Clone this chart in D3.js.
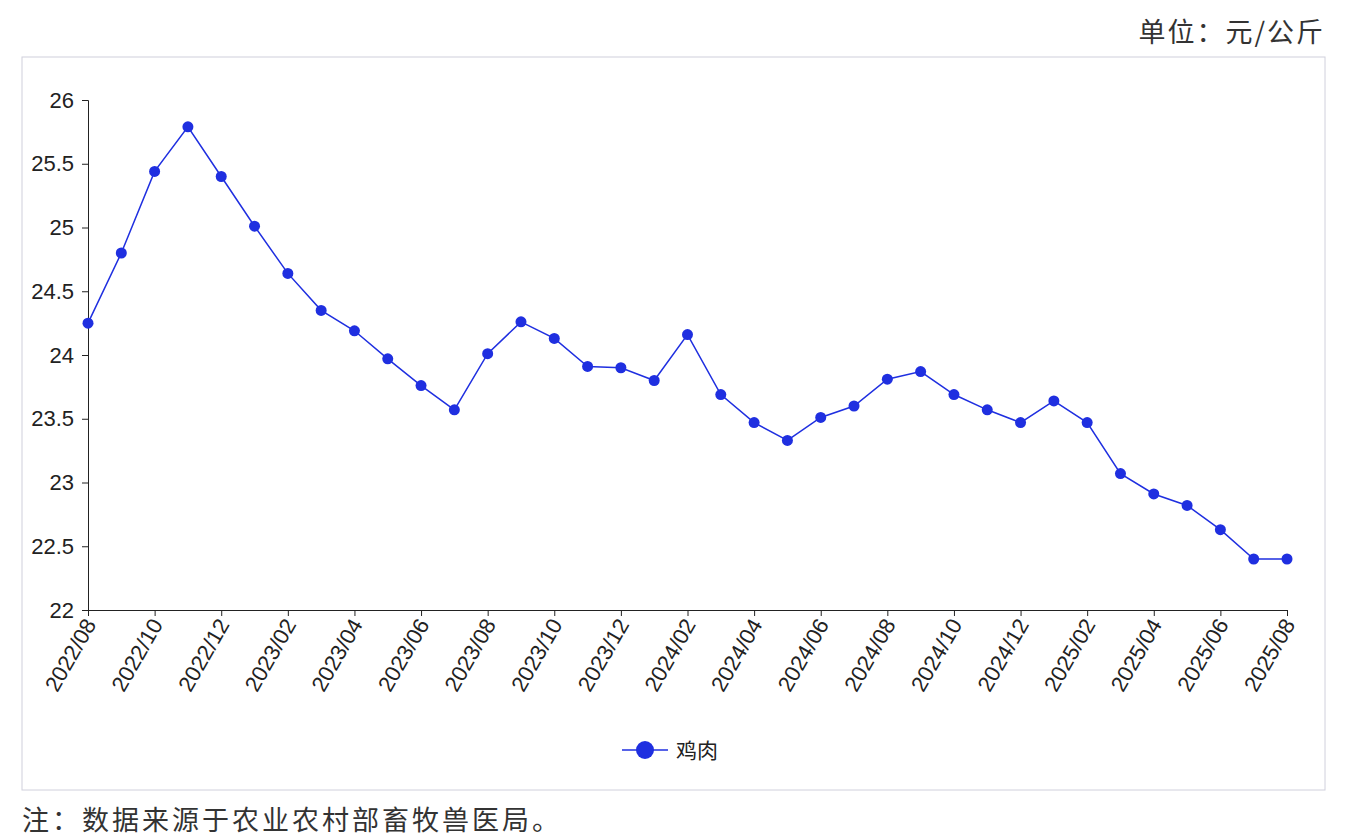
<!DOCTYPE html>
<html><head><meta charset="utf-8">
<script src="https://cdn.jsdelivr.net/npm/d3@7"></script>
<style>body{margin:0;background:#fff;font-family:"Noto Sans CJK SC","Noto Sans",sans-serif}</style>
</head><body>
<svg id="chart" width="1346" height="840"></svg>
<script>
// monthly chicken price, 2022/08 - 2025/08
const months = [];
for (let i = 0; i <= 36; i++) {
  const y = 2022 + Math.floor((7 + i) / 12), m = ((7 + i) % 12) + 1;
  months.push(y + "/" + String(m).padStart(2, "0"));
}
const prices = [24.25, 24.8, 25.44, 25.79, 25.40, 25.01, 24.64, 24.35, 24.19, 23.97, 23.76, 23.57,
  24.01, 24.26, 24.13, 23.91, 23.90, 23.80, 24.16, 23.69, 23.47, 23.33, 23.51, 23.60,
  23.81, 23.87, 23.69, 23.57, 23.47, 23.64, 23.47, 23.07, 22.91, 22.82, 22.63, 22.40, 22.40];
const yTicks = [22, 22.5, 23, 23.5, 24, 24.5, 25, 25.5, 26];
const color = "#1f2fe0";

const svg = d3.select("#chart");
svg.append("rect").attr("x", 22).attr("y", 57).attr("width", 1303).attr("height", 733)
  .attr("fill", "none").attr("stroke", "#d0d0dc");
svg.append("text").attr("x", 1325).attr("y", 42).attr("text-anchor", "end")
  .attr("font-size", 27).attr("letter-spacing", 2).attr("fill", "#333").text("单位：元/公斤");
svg.append("text").attr("x", 22).attr("y", 830)
  .attr("font-size", 27).attr("letter-spacing", 3).attr("fill", "#333").text("注：数据来源于农业农村部畜牧兽医局。");

const x = d3.scalePoint().domain(months).range([88, 1287]);
const y = d3.scaleLinear().domain([22, 26]).range([610, 100]);

const yAxis = svg.append("g").attr("transform", "translate(88,0)")
  .call(d3.axisLeft(y).tickValues(yTicks).tickSize(6).tickPadding(8).tickFormat(d3.format("")));
yAxis.selectAll("text").attr("font-size", 22).attr("fill", "#222").attr("font-family", "Liberation Sans, Arial");
yAxis.selectAll("path,line").attr("stroke", "#222");

const xAxis = svg.append("g").attr("transform", "translate(0,610)")
  .call(d3.axisBottom(x).tickValues(months.filter((d, i) => i % 2 === 0)).tickSize(6));
xAxis.selectAll("path,line").attr("stroke", "#222");
xAxis.selectAll("text").attr("font-size", 22).attr("fill", "#222").attr("font-family", "Liberation Sans, Arial")
  .attr("text-anchor", "end").attr("dy", "0.35em")
  .attr("transform", "translate(-6,6) rotate(-60)");

svg.append("path").datum(prices)
  .attr("fill", "none").attr("stroke", color).attr("stroke-width", 1.5)
  .attr("d", d3.line().x((d, i) => x(months[i])).y(d => y(d)));
svg.selectAll("circle.pt").data(prices).join("circle").attr("class", "pt")
  .attr("cx", (d, i) => x(months[i])).attr("cy", d => y(d)).attr("r", 5.5).attr("fill", color);

// legend
svg.append("line").attr("x1", 622).attr("x2", 668).attr("y1", 750).attr("y2", 750)
  .attr("stroke", color).attr("stroke-width", 1.5);
svg.append("circle").attr("cx", 645).attr("cy", 750).attr("r", 9).attr("fill", color);
svg.append("text").attr("x", 676).attr("y", 758).attr("font-size", 21).attr("fill", "#222").text("鸡肉");
</script>
</body></html>
